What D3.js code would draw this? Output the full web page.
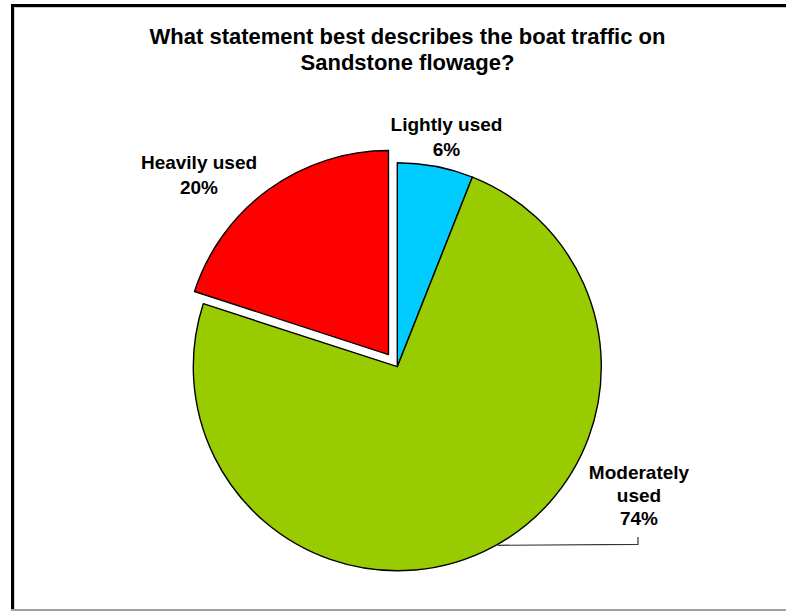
<!DOCTYPE html>
<html>
<head>
<meta charset="utf-8">
<script src="https://cdn.jsdelivr.net/npm/d3@7/dist/d3.min.js"></script>
<style>
  html, body { margin: 0; padding: 0; background: #fff; }
  svg { display: block; }
  text { font-family: Arial, "Liberation Sans", sans-serif; font-weight: bold; fill: #000; }
</style>
</head>
<body>
<svg id="chart" width="786" height="611"></svg>
<script>
// ---- data ----
const categories = ["Lightly used", "Moderately used", "Heavily used"];
const values = [6, 74, 20];
const labelLines = [["Lightly used", "6%"], ["Moderately", "used", "74%"], ["Heavily used", "20%"]];
const colors = ["#00CCFF", "#99CC00", "#FF0000"];
const titleLines = ["What statement best describes the boat traffic on", "Sandstone flowage?"];

// ---- layout ----
const W = 786, H = 611;
const cx = 397.3, cy = 366.7, R = 204;
const explode = [0, 0, 15];
const labelPos = [
  { x: 446.5, y: 131, dy: 25 },
  { x: 639, y: 479, dy: 23 },
  { x: 199, y: 169, dy: 25 }
];

const svg = d3.select("#chart");

// frame
svg.append("rect").attr("x", 0).attr("y", 0).attr("width", W).attr("height", H).attr("fill", "#fff");
svg.append("line").attr("x1", 11).attr("x2", W).attr("y1", 7.5).attr("y2", 7.5).attr("stroke", "#c8c8c8").attr("stroke-width", 1);
svg.append("line").attr("x1", 14.5).attr("x2", 14.5).attr("y1", 7).attr("y2", 609).attr("stroke", "#d8d8d8").attr("stroke-width", 1);
svg.append("path").attr("d", `M12.5,611 L12.5,5.5 L${W + 5},5.5`).attr("fill", "none").attr("stroke", "#000").attr("stroke-width", 3);
svg.append("line").attr("x1", 11).attr("x2", W).attr("y1", 610).attr("y2", 610).attr("stroke", "#a0a0a0").attr("stroke-width", 2);

// title
svg.append("text").attr("x", 407.5).attr("text-anchor", "middle").style("font-size", "22px")
  .selectAll("tspan").data(titleLines).join("tspan")
  .attr("x", 407.5).attr("y", (d, i) => 44 + i * 26).text(d => d);

// pie
const pie = d3.pie().sort(null).value(d => d.v);
const arcs = pie(values.map((v, i) => ({ v, i })));
const arc = d3.arc().innerRadius(0).outerRadius(R);

const g = svg.append("g").attr("transform", `translate(${cx},${cy})`);
g.selectAll("path.slice").data(arcs).join("path")
  .attr("class", "slice")
  .attr("transform", d => {
    const a = (d.startAngle + d.endAngle) / 2;
    const e = explode[d.data.i];
    return `translate(${e * Math.sin(a)},${-e * Math.cos(a)})`;
  })
  .attr("d", arc)
  .attr("fill", d => colors[d.data.i])
  .attr("stroke", "#000")
  .attr("stroke-width", 1.4)
  .attr("stroke-linejoin", "round");

// leader line for Moderately used
{
  const a = 150.6 * Math.PI / 180;
  const sx = cx + (R + 1) * Math.sin(a), sy = cy - (R + 1) * Math.cos(a);
  const lp = labelPos[1];
  svg.append("path")
    .attr("d", `M${sx},${sy} L${lp.x - 1},${sy - 1} L${lp.x - 1},537`)
    .attr("fill", "none").attr("stroke", "#333").attr("stroke-width", 1.2);
}

// labels
labelLines.forEach((lines, i) => {
  const p = labelPos[i];
  svg.append("text").attr("text-anchor", "middle").style("font-size", "19px")
    .selectAll("tspan").data(lines).join("tspan")
    .attr("x", p.x).attr("y", (d, k) => p.y + k * p.dy).text(d => d);
});
</script>
</body>
</html>
